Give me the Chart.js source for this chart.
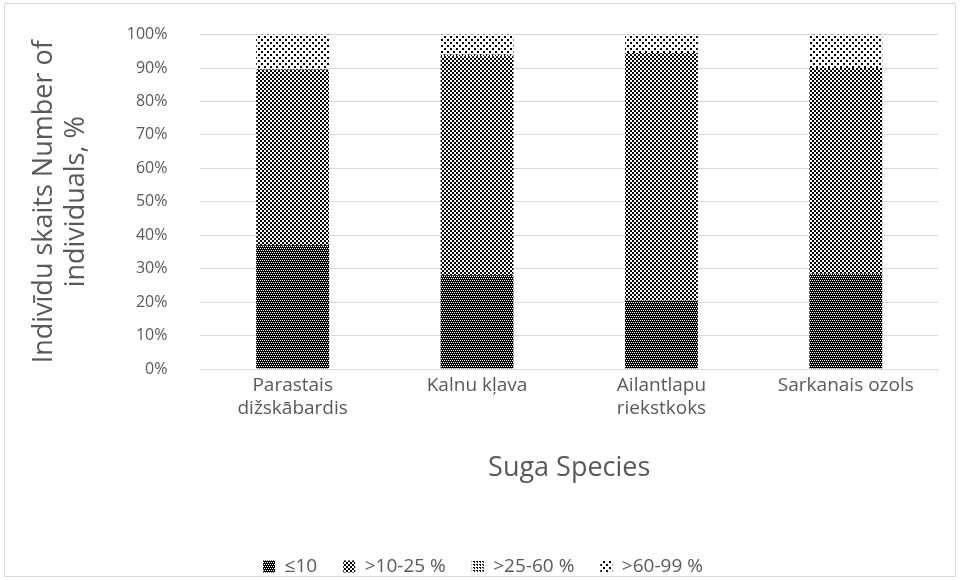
<!DOCTYPE html>
<html>
<head>
<meta charset="utf-8">
<script src="https://cdn.jsdelivr.net/npm/chart.js@4"></script>
<style>
  html, body { margin: 0; padding: 0; background: #fff; }
  #wrap { width: 960px; height: 580px; position: relative; }
</style>
</head>
<body>
<div id="wrap"><canvas id="myChart" width="960" height="580"></canvas></div>
<script>
// species (x axis)
var species = [
  ['Parastais', 'dižskābardis'],
  'Kalnu kļava',
  ['Ailantlapu', 'riekstkoks'],
  'Sarkanais ozols'
];

// share of individuals per class, %
var classLabels = ['≤10', '>10-25 %', '>25-60 %', '>60-99 %'];
var upTo10   = [37, 28, 20.5, 28.5];
var from10   = [52.5, 65.5, 74, 61.5];
var from25   = [0.5, 0.5, 0, 0];
var from60   = [10, 6, 5.5, 10];

var yTicks = [0, 10, 20, 30, 40, 50, 60, 70, 80, 90, 100];

var textColor = '#595959';
var fontFamily = "'Open Sans', 'Noto Sans', sans-serif";

// small black/white tiles, like the excel pattern fills
function makePattern(w, h, cells, invert) {
  var c = document.createElement('canvas');
  c.width = w; c.height = h;
  var g = c.getContext('2d');
  g.fillStyle = invert ? '#000' : '#fff';
  g.fillRect(0, 0, w, h);
  g.fillStyle = invert ? '#fff' : '#000';
  cells.forEach(function (p) {
    g.fillRect(p[0], p[1], p[2] || 1, p[3] || 1);
  });
  return g.createPattern(c, 'repeat');
}

var ctx = document.getElementById('myChart').getContext('2d');

var pDense = makePattern(4, 4, [[0, 0], [2, 0], [1, 2], [3, 2]], true);
var pChecker = makePattern(4, 4, [[0, 0, 2, 2], [2, 2, 2, 2]]);
var pGrid = makePattern(3, 3, [[0, 0], [0, 1], [2, 0]]);
var pDots = makePattern(6, 6, [[0, 0, 2, 2], [3, 3, 2, 2]]);

var fills = [pDense, pChecker, pGrid, pDots];
var series = [upTo10, from10, from25, from60];

var frame = {
  id: 'frame',
  beforeDraw: function (chart) {
    var c = chart.ctx;
    c.save();
    c.fillStyle = '#fff';
    c.fillRect(0, 0, chart.width, chart.height);
    c.strokeStyle = '#d9d9d9';
    c.lineWidth = 1;
    c.strokeRect(4.5, 3.5, 951, 573);
    c.restore();
  }
};

var myChart = new Chart(ctx, {
  type: 'bar',
  data: {
    labels: species,
    datasets: series.map(function (vals, i) {
      return {
        label: classLabels[i],
        data: vals,
        backgroundColor: fills[i],
        borderWidth: 0,
        barPercentage: 0.395,
        categoryPercentage: 1
      };
    })
  },
  plugins: [frame],
  options: {
    responsive: false,
    animation: false,
    layout: { padding: { left: 28, right: 22, top: 20, bottom: -6 } },
    plugins: {
      tooltip: { enabled: false },
      legend: {
        position: 'bottom',
        labels: {
          color: textColor,
          font: { family: fontFamily, size: 19 },
          boxWidth: 12,
          boxHeight: 12,
          padding: 26
        }
      }
    },
    scales: {
      x: {
        stacked: true,
        grid: { display: false },
        border: { color: '#d9d9d9' },
        ticks: {
          color: textColor,
          font: { family: fontFamily, size: 19 },
          maxRotation: 0,
          autoSkip: false,
          padding: -3
        },
        title: {
          display: true,
          text: 'Suga Species',
          color: textColor,
          font: { family: fontFamily, size: 27 },
          padding: { top: 36, bottom: 46 }
        }
      },
      y: {
        stacked: true,
        min: 0,
        max: 100,
        afterBuildTicks: function (axis) {
          axis.ticks = yTicks.map(function (v) { return { value: v }; });
        },
        grid: { color: '#d9d9d9', drawTicks: false },
        border: { display: false },
        ticks: {
          color: textColor,
          // small lineHeight keeps the tick padding from pushing the plot down
          font: { family: fontFamily, size: 16, lineHeight: 0.2 },
          padding: 33,
          callback: function (v) { return v + '%'; }
        },
        title: {
          display: true,
          text: ['Indivīdu skaits Number of', 'individuals, %'],
          color: textColor,
          font: { family: fontFamily, size: 27 },
          padding: { top: 0, bottom: 1 }
        }
      }
    }
  }
});
</script>
</body>
</html>
